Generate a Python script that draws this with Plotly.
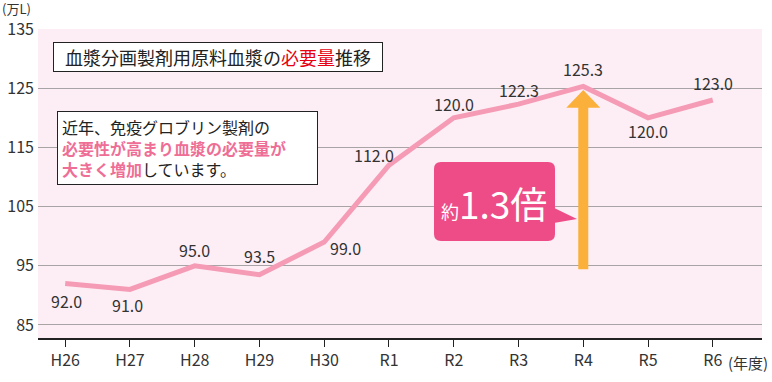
import plotly.graph_objects as go

# ---- data ----
categories = ["H26", "H27", "H28", "H29", "H30", "R1", "R2", "R3", "R4", "R5", "R6"]
volumes = [92.0, 91.0, 95.0, 93.5, 99.0, 112.0, 120.0, 122.3, 125.3, 120.0, 123.0]
y_ticks = [85, 95, 105, 115, 125, 135]
arrow_from = 94.4   # orange arrow start (value)
arrow_to = 124.7    # orange arrow tip (value)
arrow_cat = "R4"

# label offsets (pixels)
label_dx = [1, -2, 0, 0, 21, -15, 0, 0, 0, 0, 0]
label_dy = [-17, -16, 16, 19, -6, 10, 14, 14, 17, -13, 17]

FONT = "Noto Sans CJK JP"
W, H = 772, 382
L, R, T, B = 38, 10, 29, 44
PW, PH = W - L - R, H - T - B


def px(x):
    return (x - L) / PW


def py(y):
    return (H - B - y) / PH


xs = list(range(len(categories)))

fig = go.Figure()
fig.add_trace(go.Scatter(
    x=xs, y=volumes, mode="lines",
    line=dict(color="#F59BB6", width=5),
    hoverinfo="skip", showlegend=False,
))

annotations = []
for i, v in enumerate(volumes):
    annotations.append(dict(
        x=xs[i], y=v, xref="x", yref="y", text=f"{v:.1f}", showarrow=False,
        xshift=label_dx[i], yshift=label_dy[i],
        font=dict(family=FONT, size=16, color="#333333"),
    ))

# title box
annotations.append(dict(
    x=px(53), y=py(42), xref="paper", yref="paper", xanchor="left", yanchor="top",
    text="血漿分画製剤用原料血漿の<span style='color:#E60012'>必要量</span>推移",
    showarrow=False, font=dict(family=FONT, size=18, color="#222222"),
    bgcolor="#FFFFFF", bordercolor="#222222", borderwidth=1,
    width=326, height=26, align="center",
))

pink = "#EE6E96"
annotations.append(dict(
    x=px(57), y=py(111), xref="paper", yref="paper", xanchor="left", yanchor="top",
    text=("近年、免疫グロブリン製剤の<br>"
          f"<b><span style='color:{pink}'>必要性が高まり血漿の必要量が</span></b><br>"
          f"<b><span style='color:{pink}'>大きく増加</span></b>しています。"),
    showarrow=False, font=dict(family=FONT, size=16, color="#222222"),
    bgcolor="#FFFFFF", bordercolor="#222222", borderwidth=1, borderpad=4,
    width=251, height=64, align="left",
))

# callout text
annotations.append(dict(
    x=px(494), y=py(203), xref="paper", yref="paper", xanchor="center", yanchor="middle",
    text="<span style='font-size:18px'>約</span>1.3倍",
    showarrow=False, font=dict(family=FONT, size=37, color="#FFFFFF"),
))

# unit labels
annotations.append(dict(
    x=px(0), y=py(8), xref="paper", yref="paper", xanchor="left", yanchor="middle",
    text="(万L)", showarrow=False,
    font=dict(family=FONT, size=13, color="#333333"),
))
annotations.append(dict(
    x=px(726), y=py(362), xref="paper", yref="paper", xanchor="left", yanchor="middle",
    text="(年度)", showarrow=False,
    font=dict(family=FONT, size=15, color="#333333"),
))

shapes = []


def rounded_rect(x0, y0, x1, y1, r):
    return (f"M {px(x0 + r)},{py(y0)} L {px(x1 - r)},{py(y0)} "
            f"Q {px(x1)},{py(y0)} {px(x1)},{py(y0 + r)} "
            f"L {px(x1)},{py(y1 - r)} Q {px(x1)},{py(y1)} {px(x1 - r)},{py(y1)} "
            f"L {px(x0 + r)},{py(y1)} Q {px(x0)},{py(y1)} {px(x0)},{py(y1 - r)} "
            f"L {px(x0)},{py(y0 + r)} Q {px(x0)},{py(y0)} {px(x0 + r)},{py(y0)} Z")


callout_color = "#EE4C86"
shapes.append(dict(type="path", xref="paper", yref="paper",
                   path=rounded_rect(434, 162, 555, 241, 7),
                   fillcolor=callout_color, line=dict(width=0), layer="above"))
shapes.append(dict(type="path", xref="paper", yref="paper",
                   path=f"M {px(548)},{py(205)} L {px(577)},{py(219)} L {px(548)},{py(224)} Z",
                   fillcolor=callout_color, line=dict(width=0), layer="above"))

# orange arrow
ai = categories.index(arrow_cat)
orange = "#FBB03B"
head_base = arrow_to - 3.0
shapes.append(dict(type="rect", xref="x", yref="y", xsizemode="pixel", xanchor=ai,
                   x0=-5, x1=5, y0=arrow_from, y1=head_base + 0.2,
                   fillcolor=orange, line=dict(width=0), layer="above"))
shapes.append(dict(type="path", xref="x", yref="y", xsizemode="pixel", xanchor=ai,
                   path=f"M -17,{head_base} L 17,{head_base} L 0,{arrow_to} Z",
                   fillcolor=orange, line=dict(width=0), layer="above"))

fig.update_layout(
    width=W, height=H,
    margin=dict(l=L, r=R, t=T, b=B, autoexpand=False),
    paper_bgcolor="#FFFFFF",
    plot_bgcolor="#FDEEF5",
    font=dict(family=FONT, color="#333333"),
    annotations=annotations,
    shapes=shapes,
    showlegend=False,
    xaxis=dict(
        range=[-0.42, 10.76], tickmode="array", tickvals=xs, ticktext=categories,
        showgrid=False, zeroline=False, showline=True, linecolor="#222222", linewidth=1.5,
        ticks="outside", ticklen=7, tickcolor="#222222", tickwidth=1,
        tickfont=dict(family=FONT, size=16, color="#333333"),
        fixedrange=True, automargin=False,
    ),
    yaxis=dict(
        range=[82.8, 135], tickmode="array", tickvals=y_ticks,
        ticktext=[str(t) for t in y_ticks],
        showgrid=True, gridcolor="#A8A4A6", gridwidth=1, zeroline=False,
        showline=False, ticks="", ticklabelstandoff=3,
        tickfont=dict(family=FONT, size=16, color="#333333"),
        fixedrange=True, automargin=False,
    ),
)

fig.write_html(
    "out.html",
    config={"displayModeBar": False},
    post_script="document.body.style.margin='0';document.body.style.padding='0';",
)
